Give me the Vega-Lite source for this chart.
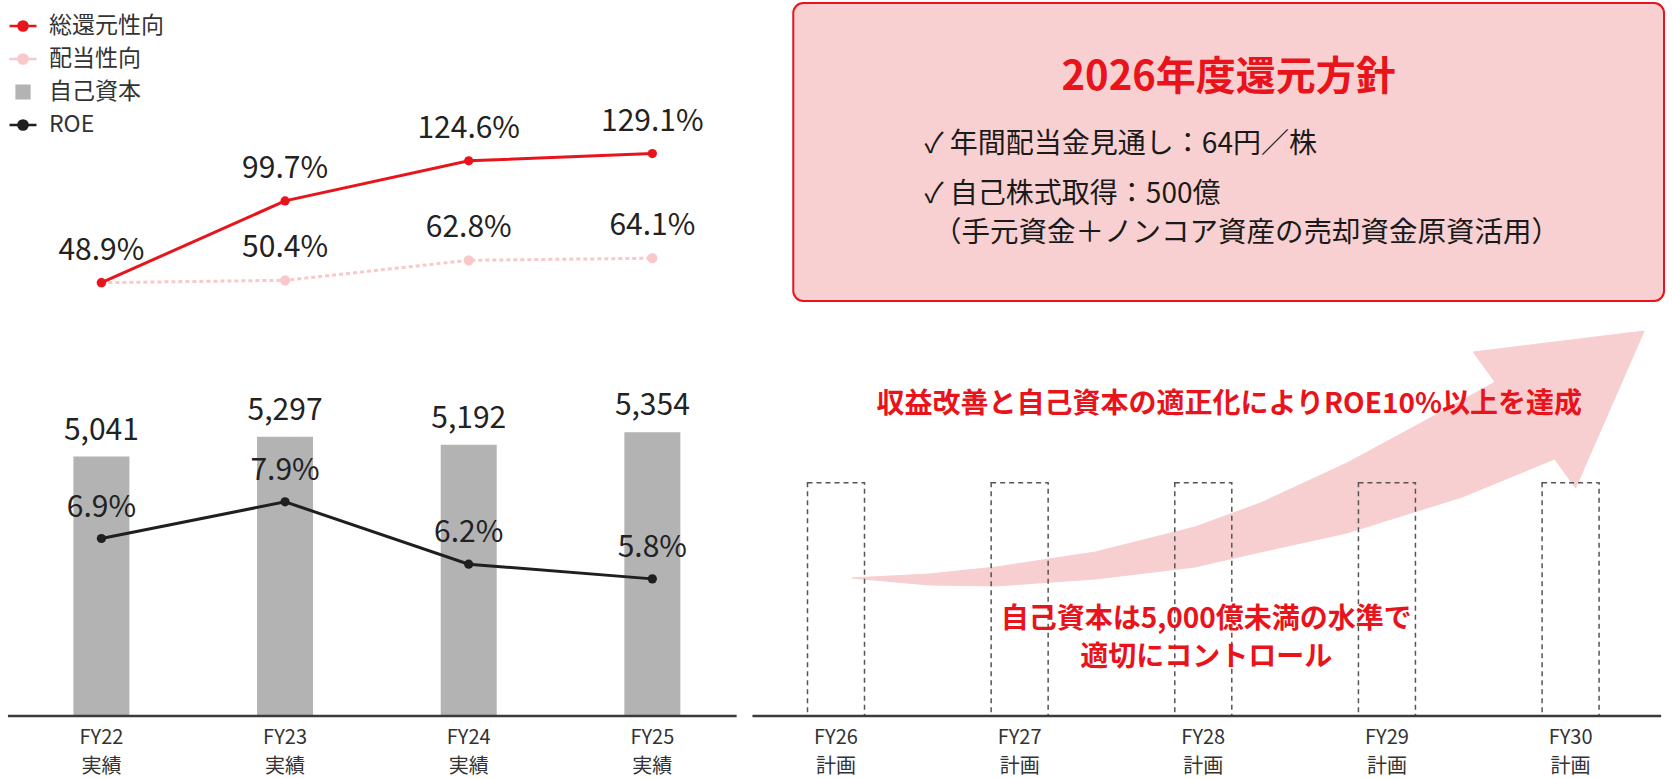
{
  "$schema": "https://vega.github.io/schema/vega-lite/v6.json",
  "width": 1672,
  "height": 779,
  "autosize": {"type": "fit", "contains": "padding"},
  "padding": 0,
  "background": "white",
  "config": {"font": "Noto Sans CJK JP", "view": {"stroke": null}},
  "datasets": {
    "fy": [
      {"idx": 0, "fy": "FY22", "kind": "実績", "equity": 5041, "roe": 0.069, "total": 0.489, "div": 0.489},
      {"idx": 1, "fy": "FY23", "kind": "実績", "equity": 5297, "roe": 0.079, "total": 0.997, "div": 0.504},
      {"idx": 2, "fy": "FY24", "kind": "実績", "equity": 5192, "roe": 0.062, "total": 1.246, "div": 0.628},
      {"idx": 3, "fy": "FY25", "kind": "実績", "equity": 5354, "roe": 0.058, "total": 1.291, "div": 0.641},
      {"idx": 4, "fy": "FY26", "kind": "計画", "plan": 4700},
      {"idx": 5, "fy": "FY27", "kind": "計画", "plan": 4700},
      {"idx": 6, "fy": "FY28", "kind": "計画", "plan": 4700},
      {"idx": 7, "fy": "FY29", "kind": "計画", "plan": 4700},
      {"idx": 8, "fy": "FY30", "kind": "計画", "plan": 4700}
    ],
    "arrow": [
      {"k": 0, "ax": 4.0866, "ay": 25.80},
      {"k": 1, "ax": 4.5088, "ay": 26.32},
      {"k": 2, "ax": 4.8715, "ay": 27.21},
      {"k": 3, "ax": 5.4127, "ay": 29.14},
      {"k": 4, "ax": 5.9540, "ay": 32.35},
      {"k": 5, "ax": 6.3112, "ay": 35.43},
      {"k": 6, "ax": 6.7821, "ay": 40.56},
      {"k": 7, "ax": 7.2151, "ay": 46.08},
      {"k": 8, "ax": 7.5886, "ay": 50.96},
      {"k": 9, "ax": 7.4695, "ay": 54.81},
      {"k": 10, "ax": 8.4005, "ay": 57.51},
      {"k": 11, "ax": 8.0271, "ay": 37.36},
      {"k": 12, "ax": 7.9134, "ay": 41.08},
      {"k": 13, "ax": 7.4100, "ay": 36.20},
      {"k": 14, "ax": 6.7821, "ay": 31.58},
      {"k": 15, "ax": 6.3112, "ay": 29.14},
      {"k": 16, "ax": 5.9540, "ay": 27.21},
      {"k": 17, "ax": 5.4127, "ay": 25.67},
      {"k": 18, "ax": 4.8715, "ay": 24.78},
      {"k": 19, "ax": 4.5088, "ay": 24.90}
    ]
  },
  "data": {"name": "fy"},
  "resolve": {"scale": {"y": "independent"}},
  "layer": [
    {
      "data": {"values": [{"t": "box"}]},
      "mark": {"type": "rect", "cornerRadius": 10, "fill": "#f9d0d1", "stroke": "#e8131b", "strokeWidth": 2},
      "encoding": {
        "x": {"datum": 3.7673, "type": "quantitative", "scale": {"domain": [-0.525, 8.525], "nice": false, "zero": false}, "axis": null},
        "x2": {"datum": 8.5088},
        "y": {"datum": 99.615, "type": "quantitative", "scale": {"domain": [0, 100], "nice": false, "zero": false}, "axis": null},
        "y2": {"datum": 61.36}
      }
    },
    {
      "data": {"values": [{"t": "2026年度還元方針"}]},
      "mark": {"type": "text", "fontSize": 40, "fontWeight": "bold", "color": "#e8131b", "align": "center", "baseline": "alphabetic"},
      "encoding": {
        "x": {"datum": 6.138, "type": "quantitative", "scale": {"domain": [-0.525, 8.525], "nice": false, "zero": false}, "axis": null},
        "y": {"datum": 88.51, "type": "quantitative", "scale": {"domain": [0, 100], "nice": false, "zero": false}, "axis": null},
        "text": {"field": "t"}
      }
    },
    {
      "data": {"values": [{"t": "✓ 年間配当金見通し：64円／株"}]},
      "mark": {"type": "text", "fontSize": 28, "color": "#1a1a1a", "align": "left", "baseline": "alphabetic"},
      "encoding": {
        "x": {"datum": 4.4817, "type": "quantitative", "scale": {"domain": [-0.525, 8.525], "nice": false, "zero": false}, "axis": null},
        "y": {"datum": 80.36, "type": "quantitative", "scale": {"domain": [0, 100], "nice": false, "zero": false}, "axis": null},
        "text": {"field": "t"}
      }
    },
    {
      "data": {"values": [{"t": "✓ 自己株式取得：500億"}]},
      "mark": {"type": "text", "fontSize": 28, "color": "#1a1a1a", "align": "left", "baseline": "alphabetic"},
      "encoding": {
        "x": {"datum": 4.4817, "type": "quantitative", "scale": {"domain": [-0.525, 8.525], "nice": false, "zero": false}, "axis": null},
        "y": {"datum": 73.94, "type": "quantitative", "scale": {"domain": [0, 100], "nice": false, "zero": false}, "axis": null},
        "text": {"field": "t"}
      }
    },
    {
      "data": {"values": [{"t": "（手元資金＋ノンコア資産の売却資金原資活用）"}]},
      "mark": {"type": "text", "fontSize": 28.5, "color": "#1a1a1a", "align": "left", "baseline": "alphabetic"},
      "encoding": {
        "x": {"datum": 4.5276, "type": "quantitative", "scale": {"domain": [-0.525, 8.525], "nice": false, "zero": false}, "axis": null},
        "y": {"datum": 68.93, "type": "quantitative", "scale": {"domain": [0, 100], "nice": false, "zero": false}, "axis": null},
        "text": {"field": "t"}
      }
    },
    {
      "data": {"name": "arrow"},
      "mark": {"type": "line", "interpolate": "linear-closed", "fill": "#f8cfd0", "stroke": "#f8cfd0", "strokeWidth": 1},
      "encoding": {
        "x": {"field": "ax", "type": "quantitative", "scale": {"domain": [-0.525, 8.525], "nice": false, "zero": false}, "axis": null},
        "y": {"field": "ay", "type": "quantitative", "scale": {"domain": [0, 100], "nice": false, "zero": false}, "axis": null},
        "order": {"field": "k", "type": "quantitative"}
      }
    },
    {
      "mark": {"type": "bar", "width": 57, "fill": "transparent", "stroke": "#555555", "strokeDash": [5, 4], "strokeWidth": 1.5},
      "encoding": {
        "x": {"field": "idx", "type": "quantitative", "scale": {"domain": [-0.525, 8.525], "nice": false, "zero": false}, "axis": null},
        "y": {"field": "plan", "type": "quantitative", "scale": {"domain": [869, 10947], "nice": false, "zero": false}, "axis": null},
        "y2": {"datum": 1684}
      }
    },
    {
      "mark": {"type": "bar", "width": 56},
      "encoding": {
        "x": {"field": "idx", "type": "quantitative", "scale": {"domain": [-0.525, 8.525], "nice": false, "zero": false}, "axis": null},
        "y": {"field": "equity", "type": "quantitative", "scale": {"domain": [869, 10947], "nice": false, "zero": false}, "axis": null},
        "y2": {"datum": 1684},
        "color": {
          "datum": "自己資本", "type": "nominal",
          "scale": {"domain": ["総還元性向", "配当性向", "自己資本", "ROE"], "range": ["#e8141c", "#f8c8ca", "#b3b3b3", "#1f1f1f"]},
          "legend": {
            "orient": "none", "legendX": 8, "legendY": 11, "direction": "vertical", "title": null,
            "symbolSize": 729, "labelFontSize": 23, "labelColor": "#333333", "labelOffset": 11, "rowPadding": 6,
            "encode": {
              "symbols": {
                "update": {
                  "shape": {"signal": "datum.value === '自己資本' ? 'M-0.47,-0.47H0.47V0.47H-0.47Z' : 'M-1,0H1M0.34,0A0.34,0.34,0,1,1,-0.34,0A0.34,0.34,0,1,1,0.34,0Z'"},
                  "fill": {"scale": "color", "field": "value"},
                  "stroke": {"scale": "color", "field": "value"},
                  "strokeWidth": {"value": 2.5},
                  "opacity": {"value": 1},
                  "fillOpacity": {"value": 1},
                  "strokeDash": {"value": []}
                }
              }
            }
          }
        }
      }
    },
    {
      "mark": {"type": "text", "fontSize": 30, "color": "#222222", "align": "center", "baseline": "alphabetic", "dy": -17},
      "encoding": {
        "x": {"field": "idx", "type": "quantitative", "scale": {"domain": [-0.525, 8.525], "nice": false, "zero": false}, "axis": null},
        "y": {"field": "equity", "type": "quantitative", "scale": {"domain": [869, 10947], "nice": false, "zero": false}, "axis": null},
        "text": {"field": "equity", "type": "quantitative", "format": ",d"}
      }
    },
    {
      "data": {"values": [{"t": "実績"}]},
      "mark": {"type": "rule", "color": "#3a3a3a", "strokeWidth": 2.5},
      "encoding": {
        "x": {"datum": -0.509, "type": "quantitative", "scale": {"domain": [-0.525, 8.525], "nice": false, "zero": false}, "axis": null},
        "x2": {"datum": 3.459},
        "y": {"datum": 1684, "type": "quantitative", "scale": {"domain": [869, 10947], "nice": false, "zero": false}, "axis": null}
      }
    },
    {
      "data": {"values": [{"t": "計画"}]},
      "mark": {"type": "rule", "color": "#3a3a3a", "strokeWidth": 2.5},
      "encoding": {
        "x": {"datum": 3.545, "type": "quantitative", "scale": {"domain": [-0.525, 8.525], "nice": false, "zero": false}, "axis": null},
        "x2": {"datum": 8.493},
        "y": {"datum": 1684, "type": "quantitative", "scale": {"domain": [869, 10947], "nice": false, "zero": false}, "axis": null}
      }
    },
    {
      "mark": {"type": "text", "fontSize": 20, "letterSpacing": 2.2, "color": "#333333", "align": "center", "baseline": "alphabetic"},
      "encoding": {
        "x": {"field": "idx", "type": "quantitative", "scale": {"domain": [-0.525, 8.525], "nice": false, "zero": false}, "axis": null},
        "y": {"datum": 4.493, "type": "quantitative", "scale": {"domain": [0, 100], "nice": false, "zero": false}, "axis": null},
        "text": {"field": "fy", "type": "nominal"}
      }
    },
    {
      "mark": {"type": "text", "fontSize": 20, "letterSpacing": 1.5, "color": "#333333", "align": "center", "baseline": "alphabetic"},
      "encoding": {
        "x": {"field": "idx", "type": "quantitative", "scale": {"domain": [-0.525, 8.525], "nice": false, "zero": false}, "axis": null},
        "y": {"datum": 0.796, "type": "quantitative", "scale": {"domain": [0, 100], "nice": false, "zero": false}, "axis": null},
        "text": {"field": "kind", "type": "nominal"}
      }
    },
    {
      "mark": {"type": "line", "strokeWidth": 3, "point": {"filled": true, "size": 85}},
      "encoding": {
        "x": {"field": "idx", "type": "quantitative", "scale": {"domain": [-0.525, 8.525], "nice": false, "zero": false}, "axis": null},
        "y": {"field": "roe", "type": "quantitative", "scale": {"domain": [0.00347, 0.21573], "nice": false, "zero": false}, "axis": null},
        "color": {"datum": "ROE", "type": "nominal"}
      }
    },
    {
      "mark": {"type": "text", "fontSize": 30, "color": "#222222", "align": "center", "baseline": "alphabetic", "dy": -22},
      "encoding": {
        "x": {"field": "idx", "type": "quantitative", "scale": {"domain": [-0.525, 8.525], "nice": false, "zero": false}, "axis": null},
        "y": {"field": "roe", "type": "quantitative", "scale": {"domain": [0.00347, 0.21573], "nice": false, "zero": false}, "axis": null},
        "text": {"field": "roe", "type": "quantitative", "format": ".1%"}
      }
    },
    {
      "mark": {"type": "line", "strokeWidth": 3, "strokeDash": [4, 3], "point": {"filled": true, "size": 105, "strokeDash": [1, 0]}},
      "encoding": {
        "x": {"field": "idx", "type": "quantitative", "scale": {"domain": [-0.525, 8.525], "nice": false, "zero": false}, "axis": null},
        "y": {"field": "div", "type": "quantitative", "scale": {"domain": [-2.594, 2.245], "nice": false, "zero": false}, "axis": null},
        "color": {"datum": "配当性向", "type": "nominal"}
      }
    },
    {
      "mark": {"type": "line", "strokeWidth": 3, "point": {"filled": true, "size": 85}},
      "encoding": {
        "x": {"field": "idx", "type": "quantitative", "scale": {"domain": [-0.525, 8.525], "nice": false, "zero": false}, "axis": null},
        "y": {"field": "total", "type": "quantitative", "scale": {"domain": [-2.594, 2.245], "nice": false, "zero": false}, "axis": null},
        "color": {"datum": "総還元性向", "type": "nominal"}
      }
    },
    {
      "mark": {"type": "text", "fontSize": 30, "color": "#222222", "align": "center", "baseline": "alphabetic", "dy": -23},
      "encoding": {
        "x": {"field": "idx", "type": "quantitative", "scale": {"domain": [-0.525, 8.525], "nice": false, "zero": false}, "axis": null},
        "y": {"field": "total", "type": "quantitative", "scale": {"domain": [-2.594, 2.245], "nice": false, "zero": false}, "axis": null},
        "text": {"field": "total", "type": "quantitative", "format": ".1%"}
      }
    },
    {
      "transform": [{"filter": "datum.idx > 0"}],
      "mark": {"type": "text", "fontSize": 30, "color": "#222222", "align": "center", "baseline": "alphabetic", "dy": -23},
      "encoding": {
        "x": {"field": "idx", "type": "quantitative", "scale": {"domain": [-0.525, 8.525], "nice": false, "zero": false}, "axis": null},
        "y": {"field": "div", "type": "quantitative", "scale": {"domain": [-2.594, 2.245], "nice": false, "zero": false}, "axis": null},
        "text": {"field": "div", "type": "quantitative", "format": ".1%"}
      }
    },
    {
      "data": {"values": [{"t": "収益改善と自己資本の適正化によりROE10%以上を達成"}]},
      "mark": {"type": "text", "fontSize": 28, "fontWeight": "bold", "color": "#e8131b", "align": "center", "baseline": "alphabetic"},
      "encoding": {
        "x": {"datum": 6.1412, "type": "quantitative", "scale": {"domain": [-0.525, 8.525], "nice": false, "zero": false}, "axis": null},
        "y": {"datum": 47.0, "type": "quantitative", "scale": {"domain": [0, 100], "nice": false, "zero": false}, "axis": null},
        "text": {"field": "t"}
      }
    },
    {
      "data": {"values": [{"t": ["自己資本は5,000億未満の水準で", "適切にコントロール"]}]},
      "mark": {"type": "text", "fontSize": 28, "fontWeight": "bold", "color": "#e8131b", "align": "center", "baseline": "alphabetic", "lineHeight": 38},
      "encoding": {
        "x": {"datum": 6.0162, "type": "quantitative", "scale": {"domain": [-0.525, 8.525], "nice": false, "zero": false}, "axis": null},
        "y": {"datum": 19.38, "type": "quantitative", "scale": {"domain": [0, 100], "nice": false, "zero": false}, "axis": null},
        "text": {"field": "t"}
      }
    }
  ]
}
